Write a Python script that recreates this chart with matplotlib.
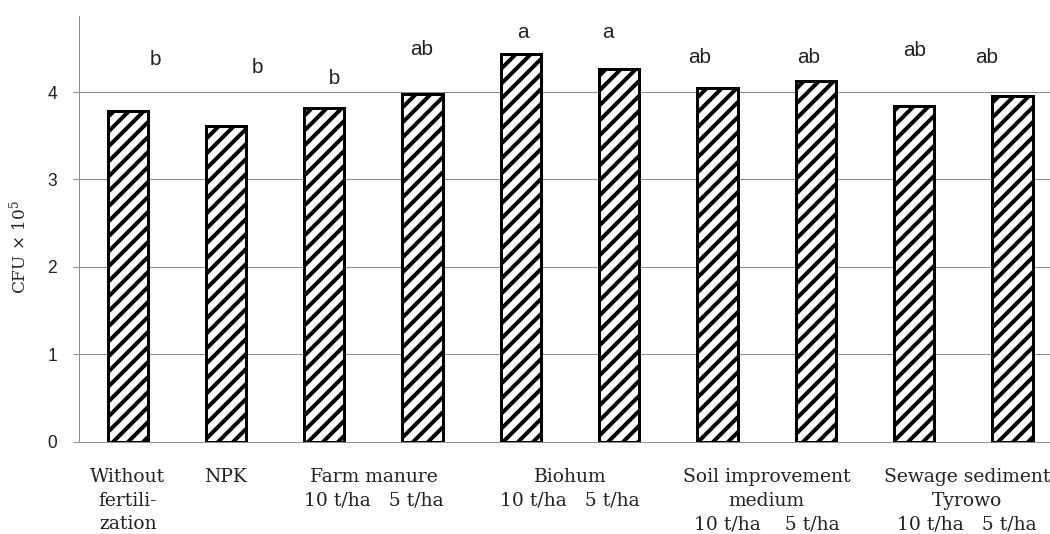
import matplotlib.pyplot as plt
import numpy as np

plt.rcParams['hatch.linewidth'] = 3.2
plt.rcParams['mathtext.default'] = 'regular'

# mean bacterial counts per treatment (CFU x 10^5)
treatments = ['Without fertilization', 'NPK',
              'Farm manure 10 t/ha', 'Farm manure 5 t/ha',
              'Biohum 10 t/ha', 'Biohum 5 t/ha',
              'Soil improvement medium 10 t/ha', 'Soil improvement medium 5 t/ha',
              'Sewage sediment Tyrowo 10 t/ha', 'Sewage sediment Tyrowo 5 t/ha']
cfu = [3.78, 3.61, 3.82, 3.98, 4.43, 4.26, 4.05, 4.13, 3.84, 3.96]
letters = ['b', 'b', 'b', 'ab', 'a', 'a', 'ab', 'ab', 'ab', 'ab']

# axis labels under the bars
group_labels = ['Without\nfertili-\nzation',
                'NPK',
                'Farm manure\n10 t/ha   5 t/ha',
                'Biohum\n10 t/ha   5 t/ha',
                'Soil improvement\nmedium\n10 t/ha    5 t/ha',
                'Sewage sediment\nTyrowo\n10 t/ha   5 t/ha']
group_pos = [0, 1, 2.5, 4.5, 6.5, 8.54]

# where the significance letters sit
letter_dx = [0.28, 0.315, 0.11, -0.01, 0.02, -0.12, -0.18, -0.07, 0.01, -0.26]
letter_y = [4.37, 4.28, 4.15, 4.49, 4.68, 4.68, 4.40, 4.40, 4.47, 4.40]

x = np.arange(len(treatments))

fig = plt.figure(figsize=(1050 / 90, 534 / 90), dpi=90)
ax = fig.add_axes([0.0748, 0.1728, 0.9362, 0.7972])

ax.bar(x, cfu, width=0.41, color='white', edgecolor='black',
       linewidth=2.4, hatch='//', zorder=2)

ax.set_xlim(-0.5, 9.5)
ax.set_ylim(0, 4.87)
ax.set_yticks([0, 1, 2, 3, 4])
ax.set_xticks([])
ax.set_axisbelow(True)
ax.yaxis.grid(True, color='#8c8c8c', linewidth=0.8)

for s in ['top', 'right']:
    ax.spines[s].set_visible(False)
for s in ['left', 'bottom']:
    ax.spines[s].set_color('#8c8c8c')
    ax.spines[s].set_linewidth(0.8)

ax.tick_params(axis='y', length=5.2, width=0.8, color='#8c8c8c',
               labelsize=14, pad=12, labelcolor='#222222')
for lab in ax.get_yticklabels():
    lab.set_fontfamily('Liberation Sans')

ax.set_ylabel('CFU × 10$^5$', fontfamily='DejaVu Serif', fontsize=13.5,
              color='#222222')
ax.yaxis.set_label_coords(-0.050, 0.457)

for i, (let, dx, ly) in enumerate(zip(letters, letter_dx, letter_y)):
    if i == 2:
        # this one has a white box that cuts through the gridline
        ax.text(i + dx - 0.12, ly, ' b   ', fontsize=16.5, family='Liberation Sans',
                color='#222222', ha='left', va='center', zorder=3,
                bbox=dict(facecolor='white', edgecolor='none', pad=2.5))
    else:
        ax.text(i + dx, ly, let, fontsize=16.5, family='Liberation Sans',
                color='#222222', ha='center', va='center', zorder=3)

for lab, gx in zip(group_labels, group_pos):
    ax.text(gx, -0.061, lab, transform=ax.get_xaxis_transform(),
            ha='center', va='top', multialignment='center',
            fontsize=15, family='DejaVu Serif', color='#222222',
            linespacing=1.42)

fig.savefig('out.png', dpi=90)
